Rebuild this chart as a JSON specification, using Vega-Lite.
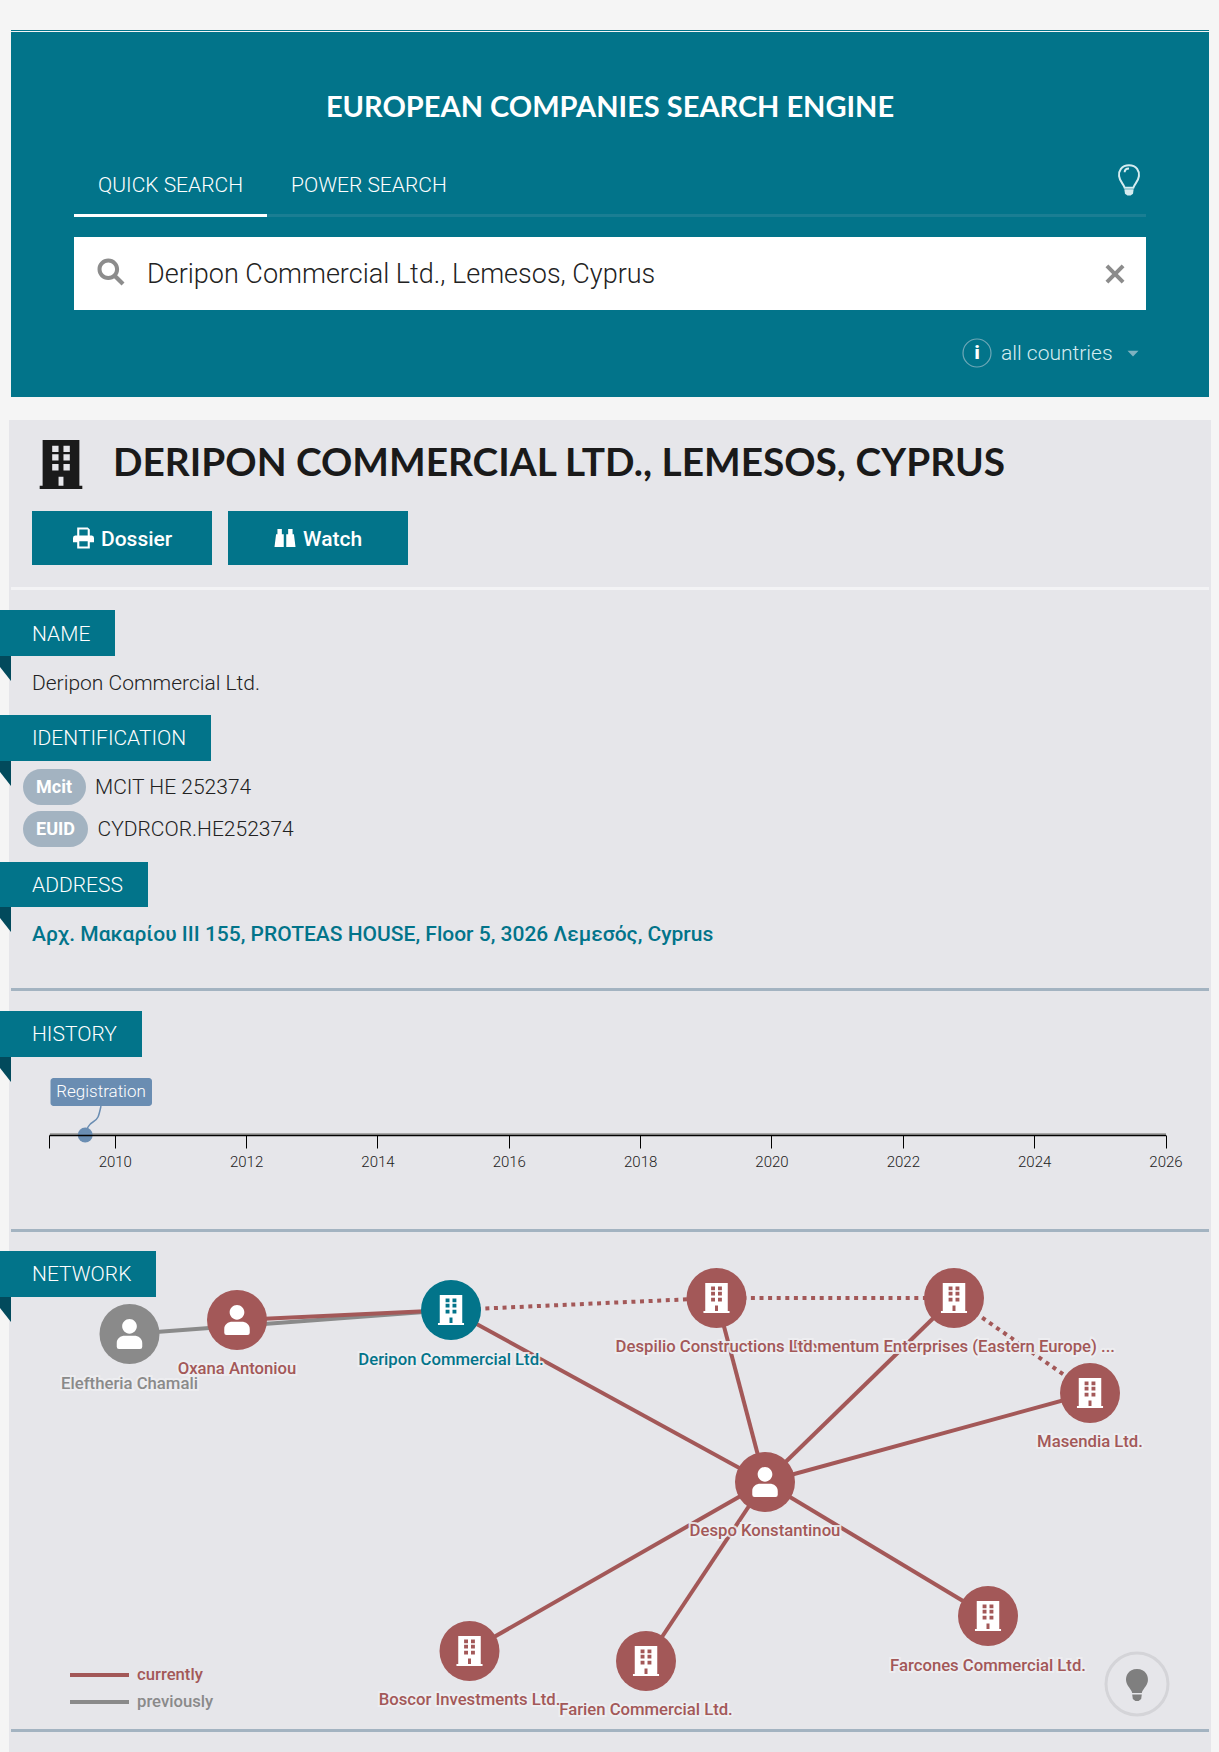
{
  "$schema": "https://vega.github.io/schema/vega-lite/v6.json",
  "autosize": {"type": "none"},
  "padding": 0,
  "width": 1219,
  "height": 1752,
  "background": "#f5f5f5",
  "config": {"view": {"stroke": null}},
  "datasets": {
    "boxes": [
      {"kind": "header", "x": 11, "x2": 1209, "y": 30, "y2": 31},
      {"kind": "header", "x": 11, "x2": 1209, "y": 32, "y2": 397},
      {"kind": "tabline", "x": 74, "x2": 1146, "y": 214, "y2": 217},
      {"kind": "white", "x": 74, "x2": 267, "y": 214, "y2": 217},
      {"kind": "white", "x": 74, "x2": 1146, "y": 237, "y2": 310},
      {"kind": "panel", "x": 9, "x2": 1211, "y": 420, "y2": 1752},
      {"kind": "header", "x": 32, "x2": 212, "y": 511, "y2": 565},
      {"kind": "header", "x": 228, "x2": 408, "y": 511, "y2": 565},
      {"kind": "hr", "x": 11, "x2": 1209, "y": 587, "y2": 590},
      {"kind": "header", "x": 0, "x2": 115, "y": 610, "y2": 656},
      {"kind": "header", "x": 0, "x2": 211, "y": 715, "y2": 761},
      {"kind": "header", "x": 0, "x2": 148, "y": 862, "y2": 907},
      {"kind": "line", "x": 11, "x2": 1209, "y": 988, "y2": 991},
      {"kind": "header", "x": 0, "x2": 142, "y": 1011, "y2": 1057},
      {"kind": "axisshade", "x": 50, "x2": 1166, "y": 1133, "y2": 1135},
      {"kind": "line", "x": 11, "x2": 1209, "y": 1229, "y2": 1232},
      {"kind": "header", "x": 0, "x2": 156, "y": 1251, "y2": 1297},
      {"kind": "line", "x": 11, "x2": 1209, "y": 1729, "y2": 1732}
    ],
    "nodes": [
      {"name": "Eleftheria Chamali", "type": "person", "status": "previous", "x": 129.5, "y": 1334, "labelY": 1384},
      {"name": "Oxana Antoniou", "type": "person", "status": "current", "x": 237, "y": 1320, "labelY": 1369},
      {"name": "Deripon Commercial Ltd.", "type": "company", "status": "subject", "x": 451, "y": 1310, "labelY": 1360},
      {"name": "Despilio Constructions Ltd.", "type": "company", "status": "current", "x": 716.5, "y": 1298, "labelY": 1347},
      {"name": "Momentum Enterprises (Eastern Europe) ...", "type": "company", "status": "current", "x": 954, "y": 1298, "labelY": 1347},
      {"name": "Masendia Ltd.", "type": "company", "status": "current", "x": 1090, "y": 1393, "labelY": 1442},
      {"name": "Despo Konstantinou", "type": "person", "status": "current", "x": 765, "y": 1482, "labelY": 1531},
      {"name": "Farien Commercial Ltd.", "type": "company", "status": "current", "x": 646, "y": 1661, "labelY": 1710},
      {"name": "Boscor Investments Ltd.", "type": "company", "status": "current", "x": 469.5, "y": 1651, "labelY": 1700},
      {"name": "Farcones Commercial Ltd.", "type": "company", "status": "current", "x": 988, "y": 1616, "labelY": 1666}
    ]
  },
  "encoding": {
    "x": {"field": "x", "type": "quantitative", "scale": {"domain": [0, 1219], "nice": false, "zero": false}, "axis": null},
    "y": {"field": "y", "type": "quantitative", "scale": {"domain": [1752, 0], "nice": false, "zero": false}, "axis": null}
  },
  "resolve": {"scale": {"x": "independent"}, "axis": {"x": "independent"}},
  "layer": [
    {
      "data": {"name": "boxes"},
      "mark": {"type": "rect"},
      "encoding": {
        "x2": {"field": "x2"},
        "y2": {"field": "y2"},
        "fill": {
          "field": "kind",
          "type": "nominal",
          "legend": null,
          "scale": {
            "domain": ["header", "tabline", "white", "panel", "hr", "line", "axisshade"],
            "range": ["#02748a", "#1a7e93", "#ffffff", "#e6e6ea", "#f3f3f5", "#a3b3c1", "#a8a8a8"]
          }
        }
      }
    },
    {
      "data": {"values": [{"x": 5.5, "y": 668.5}, {"x": 5.5, "y": 773.5}, {"x": 5.5, "y": 919.5}, {"x": 5.5, "y": 1069.5}, {"x": 5.5, "y": 1309.5}]},
      "mark": {"type": "point", "shape": "M-.44 -1 L.44 -1 L.44 1 L-.44 -.12 Z", "size": 625, "filled": true, "fill": "#024a5c", "opacity": 1, "strokeWidth": 0}
    },
    {
      "data": {"values": [
        {"x": 23, "x2": 86, "y": 769, "y2": 805},
        {"x": 23, "x2": 88, "y": 811, "y2": 847}
      ]},
      "mark": {"type": "rect", "cornerRadius": 18, "fill": "#a3b3c1"},
      "encoding": {"x2": {"field": "x2"}, "y2": {"field": "y2"}}
    },
    {
      "data": {"values": [{"x": 50.5, "x2": 152, "y": 1078, "y2": 1106}]},
      "mark": {"type": "rect", "cornerRadius": 3, "fill": "#6a8db2"},
      "encoding": {"x2": {"field": "x2"}, "y2": {"field": "y2"}}
    },
    {
      "data": {"values": [{"x": 101, "y": 1106}, {"x": 98, "y": 1117}, {"x": 88, "y": 1127}, {"x": 85, "y": 1135}]},
      "mark": {"type": "line", "interpolate": "monotone", "stroke": "#6a8db2", "strokeWidth": 1.5}
    },
    {
      "data": {"values": [{"event": "Registration", "year": 2009.55, "y": 1135}]},
      "mark": {"type": "point", "filled": true, "fill": "#6a8db2", "opacity": 1, "shape": "circle", "size": 225, "strokeWidth": 0},
      "encoding": {
        "x": {
          "field": "year",
          "type": "quantitative",
          "scale": {"domain": [2009, 2026], "range": [49.1, 1165.5], "nice": false, "zero": false},
          "axis": {
            "orient": "bottom",
            "offset": -617,
            "values": [2009, 2010, 2012, 2014, 2016, 2018, 2020, 2022, 2024, 2026],
            "labelExpr": "datum.value == 2009 ? '' : datum.value",
            "title": null,
            "grid": false,
            "zindex": 1,
            "domainColor": "#000000",
            "domainWidth": 1.5,
            "tickColor": "#000000",
            "tickWidth": 1,
            "tickSize": 13,
            "labelFont": "Roboto",
            "labelFontWeight": 300,
            "labelFontSize": 15,
            "labelColor": "#222222",
            "labelPadding": 6,
            "labelOverlap": false,
            "labelFlush": false,
            "labelBound": false
          }
        }
      }
    },
    {
      "data": {"values": [
        {"x": 129.5, "y": 1334, "x2": 451, "y2": 1310},
        {"x": 70, "y": 1702, "x2": 129, "y2": 1702}
      ]},
      "mark": {"type": "rule", "stroke": "#8a8a8a", "strokeWidth": 4},
      "encoding": {"x2": {"field": "x2"}, "y2": {"field": "y2"}}
    },
    {
      "data": {"values": [
        {"x": 237, "y": 1320, "x2": 451, "y2": 1310},
        {"x": 451, "y": 1310, "x2": 765, "y2": 1482},
        {"x": 716.5, "y": 1298, "x2": 765, "y2": 1482},
        {"x": 954, "y": 1298, "x2": 765, "y2": 1482},
        {"x": 1090, "y": 1393, "x2": 765, "y2": 1482},
        {"x": 469.5, "y": 1651, "x2": 765, "y2": 1482},
        {"x": 646, "y": 1661, "x2": 765, "y2": 1482},
        {"x": 988, "y": 1616, "x2": 765, "y2": 1482},
        {"x": 70, "y": 1675, "x2": 129, "y2": 1675}
      ]},
      "mark": {"type": "rule", "stroke": "#a35858", "strokeWidth": 4},
      "encoding": {"x2": {"field": "x2"}, "y2": {"field": "y2"}}
    },
    {
      "data": {"values": [
        {"x": 451, "y": 1310, "x2": 716.5, "y2": 1298},
        {"x": 716.5, "y": 1298, "x2": 954, "y2": 1298},
        {"x": 954, "y": 1298, "x2": 1090, "y2": 1393}
      ]},
      "mark": {"type": "rule", "stroke": "#a35858", "strokeWidth": 4, "strokeDash": [4, 4.6]},
      "encoding": {"x2": {"field": "x2"}, "y2": {"field": "y2"}}
    },
    {
      "data": {"name": "nodes"},
      "mark": {"type": "point", "shape": "circle", "filled": true, "opacity": 1, "size": 3600, "strokeWidth": 0},
      "encoding": {
        "color": {
          "field": "status",
          "type": "nominal",
          "legend": null,
          "scale": {"domain": ["current", "previous", "subject"], "range": ["#a35858", "#8a8a8a", "#02748a"]}
        }
      }
    },
    {
      "data": {"name": "nodes"},
      "transform": [{"filter": "datum.type == 'person'"}],
      "mark": {"type": "point", "filled": true, "fill": "#ffffff", "opacity": 1, "size": 900, "strokeWidth": 0, "shape": "M-.49 -.51 A.49 .49 0 1 1 .49 -.51 A.49 .49 0 1 1 -.49 -.51 Z M-.85 .6 C-.85 .3 -.6 .12 -.3 .12 L.3 .12 C.6 .12 .85 .3 .85 .6 L.85 .85 Q.85 1 .7 1 L-.7 1 Q-.85 1 -.85 .85 Z"}
    },
    {
      "data": {"name": "nodes"},
      "transform": [{"filter": "datum.type == 'company'"}],
      "mark": {"type": "point", "filled": true, "fill": "#ffffff", "opacity": 1, "size": 900, "strokeWidth": 0, "shape": "M-.75 -1 L.75 -1 L.75 .87 L.87 .87 L.87 1 L-.87 1 L-.87 .87 L-.75 .87 Z M-.36 -.77 L-.36 -.51 L-.1 -.51 L-.1 -.77 Z M.1 -.77 L.1 -.51 L.36 -.51 L.36 -.77 Z M-.36 -.42 L-.36 -.16 L-.1 -.16 L-.1 -.42 Z M.1 -.42 L.1 -.16 L.36 -.16 L.36 -.42 Z M-.36 -.02 L-.36 .24 L-.1 .24 L-.1 -.02 Z M.1 -.02 L.1 .24 L.36 .24 L.36 -.02 Z M-.1 .5 L-.1 .87 L.1 .87 L.1 .5 Z"}
    },
    {
      "data": {"values": [{"x": 61, "y": 464.5}]},
      "mark": {"type": "point", "filled": true, "fill": "#1a1a1a", "opacity": 1, "size": 2401, "strokeWidth": 0, "shape": "M-.75 -1 L.75 -1 L.75 .87 L.87 .87 L.87 1 L-.87 1 L-.87 .87 L-.75 .87 Z M-.36 -.77 L-.36 -.51 L-.1 -.51 L-.1 -.77 Z M.1 -.77 L.1 -.51 L.36 -.51 L.36 -.77 Z M-.36 -.42 L-.36 -.16 L-.1 -.16 L-.1 -.42 Z M.1 -.42 L.1 -.16 L.36 -.16 L.36 -.42 Z M-.36 -.02 L-.36 .24 L-.1 .24 L-.1 -.02 Z M.1 -.02 L.1 .24 L.36 .24 L.36 -.02 Z M-.1 .5 L-.1 .87 L.1 .87 L.1 .5 Z"}
    },
    {
      "data": {"values": [{"x": 111, "y": 272}]},
      "mark": {"type": "point", "filled": true, "fill": "#8c8c8c", "opacity": 1, "size": 729, "strokeWidth": 0, "shape": "M-1 -.2 A.8 .8 0 1 1 .6 -.2 A.8 .8 0 1 1 -1 -.2 Z M-.7 -.2 A.5 .5 0 1 0 .3 -.2 A.5 .5 0 1 0 -.7 -.2 Z M.2 .42 L.42 .2 L1 .78 L.78 1 Z"}
    },
    {
      "data": {"values": [{"x": 1115, "y": 274}]},
      "mark": {"type": "point", "filled": true, "fill": "#8c8c8c", "opacity": 1, "size": 361, "strokeWidth": 0, "shape": "M-.7 -1 L0 -.3 L.7 -1 L1 -.7 L.3 0 L1 .7 L.7 1 L0 .3 L-.7 1 L-1 .7 L-.3 0 L-1 -.7 Z"}
    },
    {
      "data": {"values": [{"x": 977, "y": 353}]},
      "mark": {"type": "point", "shape": "circle", "filled": false, "fill": null, "stroke": "#6fa8b7", "opacity": 1, "size": 784, "strokeWidth": 1.2}
    },
    {
      "data": {"values": [{"x": 1133, "y": 353.5}]},
      "mark": {"type": "point", "filled": true, "fill": "#7fb2c0", "opacity": 1, "size": 121, "strokeWidth": 0, "shape": "M-1 -.5 L1 -.5 L0 .55 Z"}
    },
    {
      "data": {"values": [{"x": 1129, "y": 180}]},
      "mark": {"type": "point", "filled": false, "fill": null, "stroke": "#d5ecf0", "opacity": 1, "size": 961, "strokeWidth": 2, "shape": "M0 -.95 C-.5 -.95 -.68 -.55 -.64 -.25 C-.6 .1 -.35 .25 -.28 .5 L.28 .5 C.35 .25 .6 .1 .64 -.25 C.68 -.55 .5 -.95 0 -.95 Z M-.28 -.5 C-.28 -.7 -.1 -.75 0 -.75"}
    },
    {
      "data": {"values": [{"x": 1129, "y": 180}]},
      "mark": {"type": "point", "filled": true, "fill": "#d5ecf0", "opacity": 1, "size": 961, "strokeWidth": 0, "shape": "M-.3 .6 L.3 .6 L.26 .88 L.1 1 L-.1 1 L-.26 .88 Z"}
    },
    {
      "data": {"values": [{"x": 1137, "y": 1684}]},
      "mark": {"type": "point", "shape": "circle", "filled": false, "fill": null, "stroke": "#d4d4d8", "opacity": 1, "size": 3844, "strokeWidth": 3}
    },
    {
      "data": {"values": [{"x": 1137, "y": 1685}]},
      "mark": {"type": "point", "filled": true, "fill": "#7f7f7f", "opacity": 1, "size": 1024, "strokeWidth": 0, "shape": "M0 -1 C-.55 -1 -.72 -.55 -.68 -.25 C-.62 .1 -.35 .25 -.3 .5 L.3 .5 C.35 .25 .62 .1 .68 -.25 C.72 -.55 .55 -1 0 -1 Z M-.3 .6 L.3 .6 L.26 .88 L.1 1 L-.1 1 L-.26 .88 Z"}
    },
    {
      "data": {"values": [{"x": 83.5, "y": 538}]},
      "mark": {"type": "point", "filled": true, "fill": "#ffffff", "opacity": 1, "size": 441, "strokeWidth": 0, "shape": "M-.6 -1 L.4 -1 L.6 -.8 L.6 -.25 L.8 -.25 Q1 -.25 1 0 L1 .4 L.6 .4 L.6 1 L-.6 1 L-.6 .4 L-1 .4 L-1 0 Q-1 -.25 -.8 -.25 L-.6 -.25 Z M-.4 -.8 L-.4 -.25 L.4 -.25 L.4 -.8 Z M-.4 .3 L-.4 .8 L.4 .8 L.4 .3 Z"}
    },
    {
      "data": {"values": [{"x": 285, "y": 538}]},
      "mark": {"type": "point", "filled": true, "fill": "#ffffff", "opacity": 1, "size": 441, "strokeWidth": 0, "shape": "M-1 .85 L-.85 -.35 L-.72 -.35 L-.72 -.85 L-.3 -.85 L-.3 -.35 L-.12 -.35 L-.12 .85 Z M.12 .85 L.12 -.35 L.3 -.35 L.3 -.85 L.72 -.85 L.72 -.35 L.85 -.35 L1 .85 Z"}
    },
    {
      "data": {"values": [{"label": "EUROPEAN COMPANIES SEARCH ENGINE", "x": 610, "y": 108}]},
      "mark": {"type": "text", "align": "center", "baseline": "middle", "font": "Lato", "fontWeight": 700, "fontSize": 29, "fill": "#ffffff"},
      "encoding": {"text": {"field": "label"}}
    },
    {
      "data": {"values": [{"label": "DERIPON COMMERCIAL LTD., LEMESOS, CYPRUS", "x": 113, "y": 464}]},
      "mark": {"type": "text", "align": "left", "baseline": "middle", "font": "Lato", "fontWeight": 700, "fontSize": 38.8, "fill": "#1a1a1a"},
      "encoding": {"text": {"field": "label"}}
    },
    {
      "data": {"values": [
        {"label": "QUICK SEARCH", "x": 98, "y": 186},
        {"label": "POWER SEARCH", "x": 291, "y": 186},
        {"label": "NAME", "x": 32, "y": 635},
        {"label": "IDENTIFICATION", "x": 32, "y": 739},
        {"label": "ADDRESS", "x": 32, "y": 886},
        {"label": "HISTORY", "x": 32, "y": 1035},
        {"label": "NETWORK", "x": 32, "y": 1275}
      ]},
      "mark": {"type": "text", "align": "left", "baseline": "middle", "font": "Roboto", "fontWeight": 300, "fontSize": 21, "fill": "#ffffff"},
      "encoding": {"text": {"field": "label"}}
    },
    {
      "data": {"values": [{"label": "Deripon Commercial Ltd., Lemesos, Cyprus", "x": 147, "y": 275}]},
      "mark": {"type": "text", "align": "left", "baseline": "middle", "font": "Roboto", "fontWeight": 300, "fontSize": 27, "fill": "#222222"},
      "encoding": {"text": {"field": "label"}}
    },
    {
      "data": {"values": [{"label": "all countries", "x": 1001, "y": 354}]},
      "mark": {"type": "text", "align": "left", "baseline": "middle", "font": "Roboto", "fontWeight": 300, "fontSize": 21, "fill": "#d5ecf0"},
      "encoding": {"text": {"field": "label"}}
    },
    {
      "data": {"values": [{"label": "i", "x": 977, "y": 353}]},
      "mark": {"type": "text", "align": "center", "baseline": "middle", "font": "Roboto", "fontWeight": 900, "fontSize": 19, "fill": "#ffffff"},
      "encoding": {"text": {"field": "label"}}
    },
    {
      "data": {"values": [{"label": "Dossier", "x": 101, "y": 540}, {"label": "Watch", "x": 303, "y": 540}]},
      "mark": {"type": "text", "align": "left", "baseline": "middle", "font": "Roboto", "fontWeight": 500, "fontSize": 21, "fill": "#ffffff"},
      "encoding": {"text": {"field": "label"}}
    },
    {
      "data": {"values": [
        {"label": "Deripon Commercial Ltd.", "x": 32, "y": 684},
        {"label": "MCIT HE 252374", "x": 95, "y": 788},
        {"label": "CYDRCOR.HE252374", "x": 97.5, "y": 830}
      ]},
      "mark": {"type": "text", "align": "left", "baseline": "middle", "font": "Roboto", "fontWeight": 300, "fontSize": 21, "fill": "#222222"},
      "encoding": {"text": {"field": "label"}}
    },
    {
      "data": {"values": [{"label": "Mcit", "x": 36, "y": 788}, {"label": "EUID", "x": 36, "y": 830}]},
      "mark": {"type": "text", "align": "left", "baseline": "middle", "font": "Roboto", "fontWeight": 700, "fontSize": 18, "fill": "#ffffff"},
      "encoding": {"text": {"field": "label"}}
    },
    {
      "data": {"values": [{"label": "Αρχ. Μακαρίου III 155, PROTEAS HOUSE, Floor 5, 3026 Λεμεσός, Cyprus", "x": 32, "y": 935}]},
      "mark": {"type": "text", "align": "left", "baseline": "middle", "font": "Roboto", "fontWeight": 500, "fontSize": 21, "fill": "#02748a"},
      "encoding": {"text": {"field": "label"}}
    },
    {
      "data": {"values": [{"label": "Registration", "x": 101, "y": 1092}]},
      "mark": {"type": "text", "align": "center", "baseline": "middle", "font": "Roboto", "fontWeight": 300, "fontSize": 17, "fill": "#ffffff"},
      "encoding": {"text": {"field": "label"}}
    },
    {
      "data": {"name": "nodes"},
      "transform": [{"filter": "indexof(datum.name, 'Momentum') == 0"}],
      "mark": {"type": "text", "align": "center", "baseline": "middle", "font": "Roboto", "fontWeight": 500, "fontSize": 16.7, "stroke": "#eeeef1", "strokeWidth": 4, "strokeOpacity": 0.9, "fill": "#eeeef1"},
      "encoding": {"y": {"field": "labelY", "type": "quantitative", "scale": {"domain": [1752, 0], "nice": false, "zero": false}, "axis": null}, "text": {"field": "name"}}
    },
    {
      "data": {"name": "nodes"},
      "transform": [{"filter": "indexof(datum.name, 'Momentum') == 0"}],
      "mark": {"type": "text", "align": "center", "baseline": "middle", "font": "Roboto", "fontWeight": 500, "fontSize": 16.7, "fill": "#a35858"},
      "encoding": {"y": {"field": "labelY", "type": "quantitative", "scale": {"domain": [1752, 0], "nice": false, "zero": false}, "axis": null}, "text": {"field": "name"}}
    },
    {
      "data": {"name": "nodes"},
      "transform": [{"filter": "indexof(datum.name, 'Momentum') != 0"}],
      "mark": {"type": "text", "align": "center", "baseline": "middle", "font": "Roboto", "fontWeight": 500, "fontSize": 16.7, "stroke": "#eeeef1", "strokeWidth": 4, "strokeOpacity": 0.9, "fill": "#eeeef1"},
      "encoding": {"y": {"field": "labelY", "type": "quantitative", "scale": {"domain": [1752, 0], "nice": false, "zero": false}, "axis": null}, "text": {"field": "name"}}
    },
    {
      "data": {"name": "nodes"},
      "transform": [{"filter": "indexof(datum.name, 'Momentum') != 0"}],
      "mark": {"type": "text", "align": "center", "baseline": "middle", "font": "Roboto", "fontWeight": 500, "fontSize": 16.7},
      "encoding": {
        "y": {"field": "labelY", "type": "quantitative", "scale": {"domain": [1752, 0], "nice": false, "zero": false}, "axis": null},
        "text": {"field": "name"},
        "color": {
          "field": "status",
          "type": "nominal",
          "legend": null,
          "scale": {"domain": ["current", "previous", "subject"], "range": ["#a35858", "#8a8a8a", "#02748a"]}
        }
      }
    },
    {
      "data": {"values": [{"label": "currently", "x": 137, "y": 1675}]},
      "mark": {"type": "text", "align": "left", "baseline": "middle", "font": "Roboto", "fontWeight": 500, "fontSize": 16.7, "fill": "#a35858"},
      "encoding": {"text": {"field": "label"}}
    },
    {
      "data": {"values": [{"label": "previously", "x": 137, "y": 1702}]},
      "mark": {"type": "text", "align": "left", "baseline": "middle", "font": "Roboto", "fontWeight": 500, "fontSize": 16.7, "fill": "#8a8a8a"},
      "encoding": {"text": {"field": "label"}}
    }
  ]
}
